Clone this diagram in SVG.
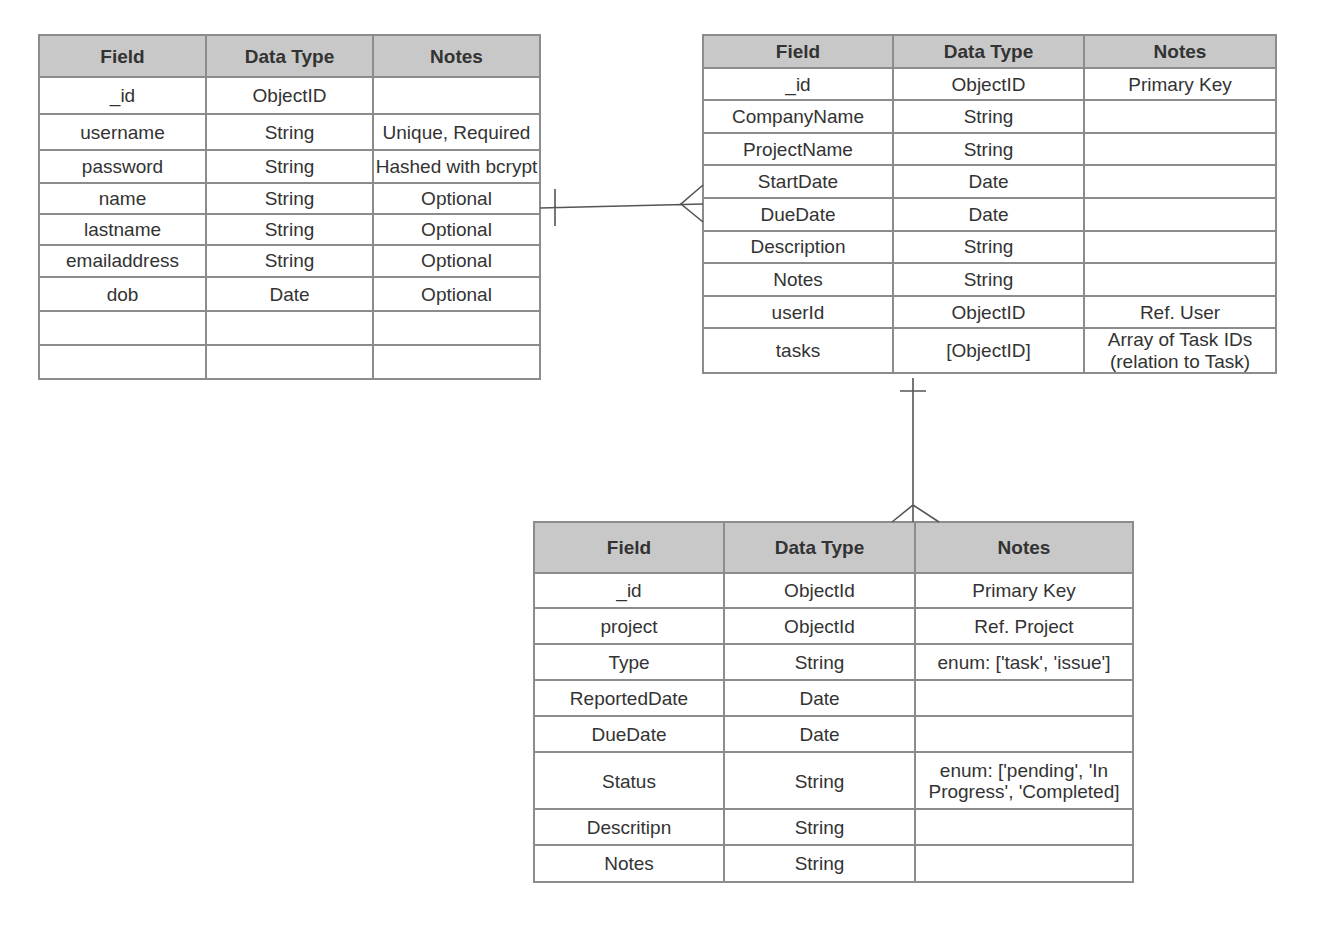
<svg xmlns="http://www.w3.org/2000/svg" width="1325" height="938" viewBox="0 0 1325 938">
<style>
.hdr{fill:#c8c8c8;stroke:none}
.box{fill:none;stroke:#8c8c8c;stroke-width:2}
.g{stroke:#8c8c8c;stroke-width:2}
text{font-family:"Liberation Sans",Arial,sans-serif;font-size:19px;fill:#333;text-anchor:middle}
.h{font-weight:bold}
.c{stroke:#555;stroke-width:1.6;fill:none}
</style>
<rect width="1325" height="938" fill="#fff"/>
<g id="user">
<rect class="hdr" x="39" y="35" width="501" height="42"/>
<rect class="box" x="39" y="35" width="501" height="344"/>
<path class="g" d="M39 77H540M39 114H540M39 150H540M39 183H540M39 214H540M39 245H540M39 277H540M39 311H540M39 345H540M206 35V379M373 35V379"/>
<text class="h" x="122.5" y="63">Field</text><text class="h" x="289.5" y="63">Data Type</text><text class="h" x="456.5" y="63">Notes</text>
<text x="122.5" y="102">_id</text><text x="289.5" y="102">ObjectID</text>
<text x="122.5" y="139">username</text><text x="289.5" y="139">String</text><text x="456.5" y="139">Unique, Required</text>
<text x="122.5" y="173">password</text><text x="289.5" y="173">String</text><text x="456.5" y="173">Hashed with bcrypt</text>
<text x="122.5" y="205">name</text><text x="289.5" y="205">String</text><text x="456.5" y="205">Optional</text>
<text x="122.5" y="236">lastname</text><text x="289.5" y="236">String</text><text x="456.5" y="236">Optional</text>
<text x="122.5" y="267">emailaddress</text><text x="289.5" y="267">String</text><text x="456.5" y="267">Optional</text>
<text x="122.5" y="301">dob</text><text x="289.5" y="301">Date</text><text x="456.5" y="301">Optional</text>
</g>
<g id="project">
<rect class="hdr" x="703" y="35" width="573" height="33"/>
<rect class="box" x="703" y="35" width="573" height="338"/>
<path class="g" d="M703 68H1276M703 100H1276M703 133H1276M703 165H1276M703 198H1276M703 231H1276M703 263H1276M703 296H1276M703 328H1276M893 35V373M1084 35V373"/>
<text class="h" x="798" y="58">Field</text><text class="h" x="988.5" y="58">Data Type</text><text class="h" x="1180" y="58">Notes</text>
<text x="798" y="91">_id</text><text x="988.5" y="91">ObjectID</text><text x="1180" y="91">Primary Key</text>
<text x="798" y="123">CompanyName</text><text x="988.5" y="123">String</text>
<text x="798" y="156">ProjectName</text><text x="988.5" y="156">String</text>
<text x="798" y="188">StartDate</text><text x="988.5" y="188">Date</text>
<text x="798" y="221">DueDate</text><text x="988.5" y="221">Date</text>
<text x="798" y="253">Description</text><text x="988.5" y="253">String</text>
<text x="798" y="286">Notes</text><text x="988.5" y="286">String</text>
<text x="798" y="319">userId</text><text x="988.5" y="319">ObjectID</text><text x="1180" y="319">Ref. User</text>
<text x="798" y="357">tasks</text><text x="988.5" y="357">[ObjectID]</text><text x="1180" y="346">Array of Task IDs</text><text x="1180" y="368">(relation to Task)</text>
</g>
<g id="task">
<rect class="hdr" x="534" y="522" width="599" height="51"/>
<rect class="box" x="534" y="522" width="599" height="360"/>
<path class="g" d="M534 573H1133M534 608H1133M534 644H1133M534 680H1133M534 716H1133M534 752H1133M534 809H1133M534 845H1133M724 522V882M915 522V882"/>
<text class="h" x="629" y="554">Field</text><text class="h" x="819.5" y="554">Data Type</text><text class="h" x="1024" y="554">Notes</text>
<text x="629" y="597">_id</text><text x="819.5" y="597">ObjectId</text><text x="1024" y="597">Primary Key</text>
<text x="629" y="633">project</text><text x="819.5" y="633">ObjectId</text><text x="1024" y="633">Ref. Project</text>
<text x="629" y="669">Type</text><text x="819.5" y="669">String</text><text x="1024" y="669">enum: ['task', 'issue']</text>
<text x="629" y="705">ReportedDate</text><text x="819.5" y="705">Date</text>
<text x="629" y="741">DueDate</text><text x="819.5" y="741">Date</text>
<text x="629" y="788">Status</text><text x="819.5" y="788">String</text><text x="1024" y="777">enum: ['pending', 'In</text><text x="1024" y="798">Progress', 'Completed]</text>
<text x="629" y="834">Descritipn</text><text x="819.5" y="834">String</text>
<text x="629" y="870">Notes</text><text x="819.5" y="870">String</text>
</g>
<g id="connectors">
<path class="c" d="M540 208L703 204M555 189V226M703 185L681 204L703 222"/>
<path class="c" d="M913 378V522M900 391H926M892 522L913 505L939 522"/>
</g>
</svg>
